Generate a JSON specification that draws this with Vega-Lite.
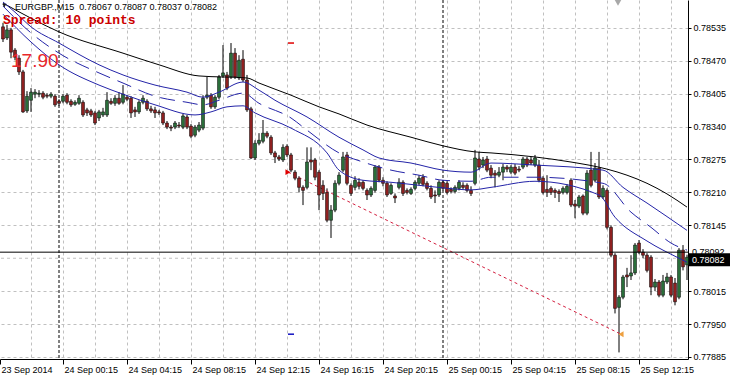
{
"$schema": "https://vega.github.io/schema/vega-lite/v6.json",
"width": 688, "height": 359,
"autosize": {"type": "none"},
"padding": {"left": 0, "top": 0, "right": 42, "bottom": 17},
"background": "#ffffff",
"config": {"view": {"stroke": null}, "font": "Liberation Sans", "axis": {"labelOverlap": false}},
"datasets": {
"candles": [
{"t":"2014-09-23T20:30","o":0.78537,"h":0.78545,"l":0.78507,"c":0.78513},
{"t":"2014-09-23T20:45","o":0.78515,"h":0.78541,"l":0.78511,"c":0.78531},
{"t":"2014-09-23T21:00","o":0.78531,"h":0.78535,"l":0.78475,"c":0.78487},
{"t":"2014-09-23T21:15","o":0.78491,"h":0.78495,"l":0.78471,"c":0.78477},
{"t":"2014-09-23T21:30","o":0.78475,"h":0.78481,"l":0.78442,"c":0.78448},
{"t":"2014-09-23T21:45","o":0.78448,"h":0.78452,"l":0.78367,"c":0.78369},
{"t":"2014-09-23T22:00","o":0.78371,"h":0.78410,"l":0.78367,"c":0.78400},
{"t":"2014-09-23T22:15","o":0.78392,"h":0.78416,"l":0.78369,"c":0.78408},
{"t":"2014-09-23T22:30","o":0.78404,"h":0.78414,"l":0.78396,"c":0.78408},
{"t":"2014-09-23T22:45","o":0.78404,"h":0.78412,"l":0.78398,"c":0.78406},
{"t":"2014-09-23T23:00","o":0.78406,"h":0.78410,"l":0.78394,"c":0.78398},
{"t":"2014-09-23T23:15","o":0.78402,"h":0.78406,"l":0.78396,"c":0.78400},
{"t":"2014-09-23T23:30","o":0.78400,"h":0.78408,"l":0.78396,"c":0.78404},
{"t":"2014-09-23T23:45","o":0.78400,"h":0.78404,"l":0.78379,"c":0.78383},
{"t":"2014-09-24T00:00","o":0.78390,"h":0.78394,"l":0.78381,"c":0.78386},
{"t":"2014-09-24T00:15","o":0.78390,"h":0.78404,"l":0.78386,"c":0.78400},
{"t":"2014-09-24T00:30","o":0.78402,"h":0.78406,"l":0.78384,"c":0.78388},
{"t":"2014-09-24T00:45","o":0.78390,"h":0.78394,"l":0.78379,"c":0.78383},
{"t":"2014-09-24T01:00","o":0.78384,"h":0.78392,"l":0.78381,"c":0.78388},
{"t":"2014-09-24T01:15","o":0.78386,"h":0.78402,"l":0.78383,"c":0.78396},
{"t":"2014-09-24T01:30","o":0.78388,"h":0.78392,"l":0.78359,"c":0.78363},
{"t":"2014-09-24T01:45","o":0.78373,"h":0.78377,"l":0.78361,"c":0.78367},
{"t":"2014-09-24T02:00","o":0.78371,"h":0.78375,"l":0.78359,"c":0.78363},
{"t":"2014-09-24T02:15","o":0.78367,"h":0.78371,"l":0.78343,"c":0.78347},
{"t":"2014-09-24T02:30","o":0.78357,"h":0.78373,"l":0.78351,"c":0.78369},
{"t":"2014-09-24T02:45","o":0.78363,"h":0.78377,"l":0.78359,"c":0.78369},
{"t":"2014-09-24T03:00","o":0.78363,"h":0.78408,"l":0.78359,"c":0.78392},
{"t":"2014-09-24T03:15","o":0.78390,"h":0.78396,"l":0.78383,"c":0.78386},
{"t":"2014-09-24T03:30","o":0.78386,"h":0.78402,"l":0.78381,"c":0.78396},
{"t":"2014-09-24T03:45","o":0.78396,"h":0.78408,"l":0.78383,"c":0.78386},
{"t":"2014-09-24T04:00","o":0.78388,"h":0.78422,"l":0.78384,"c":0.78404},
{"t":"2014-09-24T04:15","o":0.78398,"h":0.78402,"l":0.78390,"c":0.78394},
{"t":"2014-09-24T04:30","o":0.78396,"h":0.78400,"l":0.78357,"c":0.78367},
{"t":"2014-09-24T04:45","o":0.78373,"h":0.78379,"l":0.78359,"c":0.78369},
{"t":"2014-09-24T05:00","o":0.78369,"h":0.78392,"l":0.78365,"c":0.78388},
{"t":"2014-09-24T05:15","o":0.78388,"h":0.78402,"l":0.78384,"c":0.78396},
{"t":"2014-09-24T05:30","o":0.78390,"h":0.78394,"l":0.78371,"c":0.78375},
{"t":"2014-09-24T05:45","o":0.78375,"h":0.78381,"l":0.78367,"c":0.78371},
{"t":"2014-09-24T06:00","o":0.78373,"h":0.78379,"l":0.78357,"c":0.78367},
{"t":"2014-09-24T06:15","o":0.78369,"h":0.78373,"l":0.78363,"c":0.78367},
{"t":"2014-09-24T06:30","o":0.78367,"h":0.78371,"l":0.78343,"c":0.78347},
{"t":"2014-09-24T06:45","o":0.78347,"h":0.78351,"l":0.78335,"c":0.78339},
{"t":"2014-09-24T07:00","o":0.78339,"h":0.78343,"l":0.78331,"c":0.78337},
{"t":"2014-09-24T07:15","o":0.78339,"h":0.78351,"l":0.78335,"c":0.78347},
{"t":"2014-09-24T07:30","o":0.78343,"h":0.78349,"l":0.78337,"c":0.78341},
{"t":"2014-09-24T07:45","o":0.78339,"h":0.78365,"l":0.78335,"c":0.78361},
{"t":"2014-09-24T08:00","o":0.78359,"h":0.78363,"l":0.78335,"c":0.78339},
{"t":"2014-09-24T08:15","o":0.78341,"h":0.78345,"l":0.78317,"c":0.78321},
{"t":"2014-09-24T08:30","o":0.78323,"h":0.78343,"l":0.78319,"c":0.78339},
{"t":"2014-09-24T08:45","o":0.78333,"h":0.78349,"l":0.78329,"c":0.78343},
{"t":"2014-09-24T09:00","o":0.78337,"h":0.78402,"l":0.78333,"c":0.78396},
{"t":"2014-09-24T09:15","o":0.78398,"h":0.78438,"l":0.78394,"c":0.78402},
{"t":"2014-09-24T09:30","o":0.78402,"h":0.78406,"l":0.78375,"c":0.78379},
{"t":"2014-09-24T09:45","o":0.78379,"h":0.78402,"l":0.78375,"c":0.78398},
{"t":"2014-09-24T10:00","o":0.78398,"h":0.78442,"l":0.78394,"c":0.78438},
{"t":"2014-09-24T10:15","o":0.78440,"h":0.78501,"l":0.78436,"c":0.78446},
{"t":"2014-09-24T10:30","o":0.78442,"h":0.78448,"l":0.78412,"c":0.78416},
{"t":"2014-09-24T10:45","o":0.78438,"h":0.78505,"l":0.78434,"c":0.78485},
{"t":"2014-09-24T11:00","o":0.78485,"h":0.78495,"l":0.78434,"c":0.78438},
{"t":"2014-09-24T11:15","o":0.78436,"h":0.78481,"l":0.78432,"c":0.78471},
{"t":"2014-09-24T11:30","o":0.78473,"h":0.78491,"l":0.78428,"c":0.78432},
{"t":"2014-09-24T11:45","o":0.78432,"h":0.78442,"l":0.78369,"c":0.78373},
{"t":"2014-09-24T12:00","o":0.78375,"h":0.78379,"l":0.78276,"c":0.78278},
{"t":"2014-09-24T12:15","o":0.78278,"h":0.78313,"l":0.78274,"c":0.78307},
{"t":"2014-09-24T12:30","o":0.78307,"h":0.78327,"l":0.78303,"c":0.78313},
{"t":"2014-09-24T12:45","o":0.78311,"h":0.78353,"l":0.78307,"c":0.78327},
{"t":"2014-09-24T13:00","o":0.78327,"h":0.78331,"l":0.78317,"c":0.78321},
{"t":"2014-09-24T13:15","o":0.78319,"h":0.78323,"l":0.78284,"c":0.78288},
{"t":"2014-09-24T13:30","o":0.78288,"h":0.78292,"l":0.78268,"c":0.78280},
{"t":"2014-09-24T13:45","o":0.78280,"h":0.78284,"l":0.78272,"c":0.78276},
{"t":"2014-09-24T14:00","o":0.78274,"h":0.78305,"l":0.78270,"c":0.78299},
{"t":"2014-09-24T14:15","o":0.78301,"h":0.78305,"l":0.78280,"c":0.78284},
{"t":"2014-09-24T14:30","o":0.78284,"h":0.78288,"l":0.78250,"c":0.78254},
{"t":"2014-09-24T14:45","o":0.78250,"h":0.78254,"l":0.78234,"c":0.78238},
{"t":"2014-09-24T15:00","o":0.78238,"h":0.78242,"l":0.78210,"c":0.78220},
{"t":"2014-09-24T15:15","o":0.78220,"h":0.78224,"l":0.78185,"c":0.78214},
{"t":"2014-09-24T15:30","o":0.78220,"h":0.78299,"l":0.78216,"c":0.78270},
{"t":"2014-09-24T15:45","o":0.78274,"h":0.78299,"l":0.78254,"c":0.78270},
{"t":"2014-09-24T16:00","o":0.78274,"h":0.78278,"l":0.78234,"c":0.78240},
{"t":"2014-09-24T16:15","o":0.78250,"h":0.78254,"l":0.78175,"c":0.78205},
{"t":"2014-09-24T16:30","o":0.78224,"h":0.78234,"l":0.78195,"c":0.78208},
{"t":"2014-09-24T16:45","o":0.78210,"h":0.78218,"l":0.78151,"c":0.78155},
{"t":"2014-09-24T17:00","o":0.78155,"h":0.78185,"l":0.78120,"c":0.78175},
{"t":"2014-09-24T17:15","o":0.78175,"h":0.78234,"l":0.78171,"c":0.78228},
{"t":"2014-09-24T17:30","o":0.78228,"h":0.78250,"l":0.78224,"c":0.78244},
{"t":"2014-09-24T17:45","o":0.78254,"h":0.78290,"l":0.78250,"c":0.78280},
{"t":"2014-09-24T18:00","o":0.78284,"h":0.78290,"l":0.78224,"c":0.78228},
{"t":"2014-09-24T18:15","o":0.78224,"h":0.78228,"l":0.78203,"c":0.78208},
{"t":"2014-09-24T18:30","o":0.78220,"h":0.78242,"l":0.78214,"c":0.78234},
{"t":"2014-09-24T18:45","o":0.78230,"h":0.78238,"l":0.78216,"c":0.78222},
{"t":"2014-09-24T19:00","o":0.78230,"h":0.78234,"l":0.78214,"c":0.78218},
{"t":"2014-09-24T19:15","o":0.78214,"h":0.78218,"l":0.78195,"c":0.78205},
{"t":"2014-09-24T19:30","o":0.78205,"h":0.78222,"l":0.78201,"c":0.78218},
{"t":"2014-09-24T19:45","o":0.78214,"h":0.78264,"l":0.78210,"c":0.78260},
{"t":"2014-09-24T20:00","o":0.78260,"h":0.78264,"l":0.78230,"c":0.78234},
{"t":"2014-09-24T20:15","o":0.78234,"h":0.78240,"l":0.78222,"c":0.78228},
{"t":"2014-09-24T20:30","o":0.78228,"h":0.78232,"l":0.78201,"c":0.78205},
{"t":"2014-09-24T20:45","o":0.78208,"h":0.78228,"l":0.78205,"c":0.78224},
{"t":"2014-09-24T21:00","o":0.78203,"h":0.78208,"l":0.78189,"c":0.78199},
{"t":"2014-09-24T21:15","o":0.78220,"h":0.78238,"l":0.78216,"c":0.78230},
{"t":"2014-09-24T21:30","o":0.78230,"h":0.78234,"l":0.78203,"c":0.78208},
{"t":"2014-09-24T21:45","o":0.78214,"h":0.78218,"l":0.78206,"c":0.78210},
{"t":"2014-09-24T22:00","o":0.78208,"h":0.78220,"l":0.78205,"c":0.78216},
{"t":"2014-09-24T22:15","o":0.78218,"h":0.78234,"l":0.78214,"c":0.78230},
{"t":"2014-09-24T22:30","o":0.78228,"h":0.78244,"l":0.78224,"c":0.78238},
{"t":"2014-09-24T22:45","o":0.78240,"h":0.78246,"l":0.78222,"c":0.78226},
{"t":"2014-09-24T23:00","o":0.78228,"h":0.78232,"l":0.78214,"c":0.78218},
{"t":"2014-09-24T23:15","o":0.78218,"h":0.78224,"l":0.78197,"c":0.78201},
{"t":"2014-09-24T23:30","o":0.78205,"h":0.78214,"l":0.78189,"c":0.78203},
{"t":"2014-09-24T23:45","o":0.78205,"h":0.78234,"l":0.78201,"c":0.78230},
{"t":"2014-09-25T00:00","o":0.78230,"h":0.78234,"l":0.78214,"c":0.78218},
{"t":"2014-09-25T00:15","o":0.78228,"h":0.78232,"l":0.78206,"c":0.78210},
{"t":"2014-09-25T00:30","o":0.78216,"h":0.78220,"l":0.78208,"c":0.78212},
{"t":"2014-09-25T00:45","o":0.78212,"h":0.78224,"l":0.78208,"c":0.78220},
{"t":"2014-09-25T01:00","o":0.78218,"h":0.78234,"l":0.78214,"c":0.78230},
{"t":"2014-09-25T01:15","o":0.78224,"h":0.78230,"l":0.78216,"c":0.78220},
{"t":"2014-09-25T01:30","o":0.78224,"h":0.78228,"l":0.78210,"c":0.78214},
{"t":"2014-09-25T01:45","o":0.78214,"h":0.78222,"l":0.78203,"c":0.78208},
{"t":"2014-09-25T02:00","o":0.78228,"h":0.78294,"l":0.78224,"c":0.78278},
{"t":"2014-09-25T02:15","o":0.78276,"h":0.78290,"l":0.78254,"c":0.78260},
{"t":"2014-09-25T02:30","o":0.78264,"h":0.78280,"l":0.78258,"c":0.78274},
{"t":"2014-09-25T02:45","o":0.78276,"h":0.78282,"l":0.78250,"c":0.78254},
{"t":"2014-09-25T03:00","o":0.78258,"h":0.78264,"l":0.78238,"c":0.78244},
{"t":"2014-09-25T03:15","o":0.78248,"h":0.78254,"l":0.78220,"c":0.78244},
{"t":"2014-09-25T03:30","o":0.78244,"h":0.78260,"l":0.78240,"c":0.78250},
{"t":"2014-09-25T03:45","o":0.78250,"h":0.78266,"l":0.78234,"c":0.78260},
{"t":"2014-09-25T04:00","o":0.78260,"h":0.78264,"l":0.78250,"c":0.78256},
{"t":"2014-09-25T04:15","o":0.78250,"h":0.78264,"l":0.78246,"c":0.78260},
{"t":"2014-09-25T04:30","o":0.78260,"h":0.78266,"l":0.78244,"c":0.78248},
{"t":"2014-09-25T04:45","o":0.78256,"h":0.78262,"l":0.78250,"c":0.78254},
{"t":"2014-09-25T05:00","o":0.78260,"h":0.78280,"l":0.78256,"c":0.78276},
{"t":"2014-09-25T05:15","o":0.78276,"h":0.78280,"l":0.78260,"c":0.78264},
{"t":"2014-09-25T05:30","o":0.78274,"h":0.78280,"l":0.78264,"c":0.78268},
{"t":"2014-09-25T05:45","o":0.78264,"h":0.78284,"l":0.78260,"c":0.78278},
{"t":"2014-09-25T06:00","o":0.78264,"h":0.78274,"l":0.78230,"c":0.78234},
{"t":"2014-09-25T06:15","o":0.78238,"h":0.78242,"l":0.78206,"c":0.78210},
{"t":"2014-09-25T06:30","o":0.78216,"h":0.78244,"l":0.78201,"c":0.78210},
{"t":"2014-09-25T06:45","o":0.78218,"h":0.78222,"l":0.78205,"c":0.78210},
{"t":"2014-09-25T07:00","o":0.78214,"h":0.78218,"l":0.78199,"c":0.78210},
{"t":"2014-09-25T07:15","o":0.78212,"h":0.78216,"l":0.78191,"c":0.78208},
{"t":"2014-09-25T07:30","o":0.78210,"h":0.78222,"l":0.78206,"c":0.78218},
{"t":"2014-09-25T07:45","o":0.78210,"h":0.78226,"l":0.78206,"c":0.78222},
{"t":"2014-09-25T08:00","o":0.78234,"h":0.78238,"l":0.78181,"c":0.78185},
{"t":"2014-09-25T08:15","o":0.78187,"h":0.78195,"l":0.78159,"c":0.78183},
{"t":"2014-09-25T08:30","o":0.78183,"h":0.78205,"l":0.78179,"c":0.78201},
{"t":"2014-09-25T08:45","o":0.78203,"h":0.78206,"l":0.78165,"c":0.78169},
{"t":"2014-09-25T09:00","o":0.78169,"h":0.78254,"l":0.78165,"c":0.78248},
{"t":"2014-09-25T09:15","o":0.78254,"h":0.78290,"l":0.78220,"c":0.78224},
{"t":"2014-09-25T09:30","o":0.78234,"h":0.78268,"l":0.78230,"c":0.78258},
{"t":"2014-09-25T09:45","o":0.78258,"h":0.78290,"l":0.78197,"c":0.78201},
{"t":"2014-09-25T10:00","o":0.78201,"h":0.78224,"l":0.78197,"c":0.78218},
{"t":"2014-09-25T10:15","o":0.78214,"h":0.78218,"l":0.78137,"c":0.78141},
{"t":"2014-09-25T10:30","o":0.78141,"h":0.78145,"l":0.78082,"c":0.78086},
{"t":"2014-09-25T10:45","o":0.78086,"h":0.78090,"l":0.77971,"c":0.77981},
{"t":"2014-09-25T11:00","o":0.77983,"h":0.78007,"l":0.77894,"c":0.78003},
{"t":"2014-09-25T11:15","o":0.78003,"h":0.78047,"l":0.77999,"c":0.78043},
{"t":"2014-09-25T11:30","o":0.78047,"h":0.78061,"l":0.78023,"c":0.78043},
{"t":"2014-09-25T11:45","o":0.78045,"h":0.78086,"l":0.78037,"c":0.78051},
{"t":"2014-09-25T12:00","o":0.78051,"h":0.78110,"l":0.78047,"c":0.78106},
{"t":"2014-09-25T12:15","o":0.78110,"h":0.78116,"l":0.78088,"c":0.78092},
{"t":"2014-09-25T12:30","o":0.78092,"h":0.78098,"l":0.78080,"c":0.78086},
{"t":"2014-09-25T12:45","o":0.78086,"h":0.78090,"l":0.78052,"c":0.78056},
{"t":"2014-09-25T13:00","o":0.78082,"h":0.78086,"l":0.78007,"c":0.78023},
{"t":"2014-09-25T13:15","o":0.78023,"h":0.78039,"l":0.78015,"c":0.78033},
{"t":"2014-09-25T13:30","o":0.78033,"h":0.78037,"l":0.78003,"c":0.78007},
{"t":"2014-09-25T13:45","o":0.78007,"h":0.78047,"l":0.78003,"c":0.78035},
{"t":"2014-09-25T14:00","o":0.78033,"h":0.78051,"l":0.78029,"c":0.78043},
{"t":"2014-09-25T14:15","o":0.78043,"h":0.78047,"l":0.78003,"c":0.78007},
{"t":"2014-09-25T14:30","o":0.78031,"h":0.78041,"l":0.77987,"c":0.77994},
{"t":"2014-09-25T14:45","o":0.78003,"h":0.78100,"l":0.77999,"c":0.78096},
{"t":"2014-09-25T15:00","o":0.78096,"h":0.78106,"l":0.78056,"c":0.78063},
{"t":"2014-09-25T15:15","o":0.78067,"h":0.78087,"l":0.78037,"c":0.78082}
],
"maBlack": [
{"t":"2014-09-23T20:30","p":0.78584},{"t":"2014-09-23T22:15","p":0.78554},{"t":"2014-09-24T00:00","p":0.78527},
{"t":"2014-09-24T04:00","p":0.78485},{"t":"2014-09-24T06:15","p":0.78462},{"t":"2014-09-24T08:45","p":0.78440},
{"t":"2014-09-24T11:45","p":0.78436},{"t":"2014-09-24T12:30","p":0.78426},{"t":"2014-09-24T14:30","p":0.78402},
{"t":"2014-09-24T16:15","p":0.78379},{"t":"2014-09-24T17:30","p":0.78365},{"t":"2014-09-24T19:15","p":0.78343},
{"t":"2014-09-24T22:00","p":0.78319},{"t":"2014-09-25T00:00","p":0.78302},{"t":"2014-09-25T02:00","p":0.78290},
{"t":"2014-09-25T03:00","p":0.78288},{"t":"2014-09-25T05:45","p":0.78280},{"t":"2014-09-25T08:00","p":0.78270},
{"t":"2014-09-25T10:15","p":0.78256},{"t":"2014-09-25T11:30","p":0.78244},{"t":"2014-09-25T12:45","p":0.78228},
{"t":"2014-09-25T14:00","p":0.78207},{"t":"2014-09-25T15:15","p":0.78181}
],
"maTop": [
{"t":"2014-09-23T20:30","p":0.78586},{"t":"2014-09-23T21:15","p":0.78566},{"t":"2014-09-23T22:15","p":0.78537},
{"t":"2014-09-24T00:00","p":0.78505},{"t":"2014-09-24T02:30","p":0.78462},{"t":"2014-09-24T04:00","p":0.78442},
{"t":"2014-09-24T06:00","p":0.78422},{"t":"2014-09-24T08:00","p":0.78408},{"t":"2014-09-24T09:00","p":0.78398},
{"t":"2014-09-24T10:00","p":0.78408},{"t":"2014-09-24T11:30","p":0.78428},{"t":"2014-09-24T12:30","p":0.78412},
{"t":"2014-09-24T13:30","p":0.78392},{"t":"2014-09-24T15:30","p":0.78359},{"t":"2014-09-24T17:30","p":0.78319},
{"t":"2014-09-24T19:00","p":0.78294},{"t":"2014-09-24T20:00","p":0.78278},{"t":"2014-09-24T22:00","p":0.78268},
{"t":"2014-09-25T00:00","p":0.78254},{"t":"2014-09-25T01:45","p":0.78250},{"t":"2014-09-25T03:00","p":0.78268},
{"t":"2014-09-25T05:45","p":0.78264},{"t":"2014-09-25T10:00","p":0.78254},{"t":"2014-09-25T11:15","p":0.78220},
{"t":"2014-09-25T12:45","p":0.78189},{"t":"2014-09-25T15:15","p":0.78135}
],
"maMid": [
{"t":"2014-09-23T20:30","p":0.78578},{"t":"2014-09-23T22:15","p":0.78525},{"t":"2014-09-24T00:00","p":0.78485},
{"t":"2014-09-24T02:30","p":0.78446},{"t":"2014-09-24T04:00","p":0.78426},{"t":"2014-09-24T06:00","p":0.78400},
{"t":"2014-09-24T08:00","p":0.78388},{"t":"2014-09-24T09:00","p":0.78383},{"t":"2014-09-24T10:00","p":0.78392},
{"t":"2014-09-24T11:30","p":0.78406},{"t":"2014-09-24T12:30","p":0.78386},{"t":"2014-09-24T14:30","p":0.78357},
{"t":"2014-09-24T15:30","p":0.78333},{"t":"2014-09-24T17:30","p":0.78288},{"t":"2014-09-24T19:00","p":0.78270},
{"t":"2014-09-24T20:45","p":0.78254},{"t":"2014-09-24T22:30","p":0.78244},{"t":"2014-09-25T00:00","p":0.78234},
{"t":"2014-09-25T01:45","p":0.78232},{"t":"2014-09-25T03:00","p":0.78240},{"t":"2014-09-25T05:45","p":0.78240},
{"t":"2014-09-25T10:00","p":0.78228},{"t":"2014-09-25T11:45","p":0.78171},{"t":"2014-09-25T13:00","p":0.78141},
{"t":"2014-09-25T14:15","p":0.78110},{"t":"2014-09-25T15:15","p":0.78096}
],
"maBot": [
{"t":"2014-09-23T20:30","p":0.78562},{"t":"2014-09-23T22:15","p":0.78507},{"t":"2014-09-24T00:00","p":0.78462},
{"t":"2014-09-24T02:30","p":0.78422},{"t":"2014-09-24T04:00","p":0.78404},{"t":"2014-09-24T06:00","p":0.78383},
{"t":"2014-09-24T08:30","p":0.78363},{"t":"2014-09-24T09:30","p":0.78369},{"t":"2014-09-24T10:30","p":0.78379},
{"t":"2014-09-24T11:30","p":0.78381},{"t":"2014-09-24T12:15","p":0.78367},{"t":"2014-09-24T14:30","p":0.78337},
{"t":"2014-09-24T16:45","p":0.78288},{"t":"2014-09-24T17:30","p":0.78254},{"t":"2014-09-24T19:00","p":0.78234},
{"t":"2014-09-24T20:45","p":0.78230},{"t":"2014-09-24T22:30","p":0.78224},{"t":"2014-09-25T00:00","p":0.78219},
{"t":"2014-09-25T01:45","p":0.78215},{"t":"2014-09-25T03:00","p":0.78220},{"t":"2014-09-25T05:45","p":0.78232},
{"t":"2014-09-25T09:45","p":0.78205},{"t":"2014-09-25T10:45","p":0.78161},{"t":"2014-09-25T12:45","p":0.78114},
{"t":"2014-09-25T14:45","p":0.78080},{"t":"2014-09-25T15:15","p":0.78072}
]
},
"layer": [
{
"data": {"values": [{"p":0.7808}]},
"mark": {"type": "rule", "color": "#c0c0c0", "strokeWidth": 1, "strokeDash": [3, 3]},
"encoding": {"y": {"field": "p", "type": "quantitative", "title": null}}
},
{
"data": {"values": [{"t":"2014-09-24T00:00"},{"t":"2014-09-25T00:00"}]},
"mark": {"type": "rule", "color": "#000000", "strokeWidth": 1, "strokeDash": [3, 2]},
"encoding": {"x": {"field": "t", "type": "temporal", "title": null}}
},
{
"data": {"name": "candles"},
"mark": {"type": "rule", "color": "#000000", "strokeWidth": 1},
"encoding": {
"x": {"field": "t", "type": "temporal", "title": null,
"scale": {"domain": [{"year":2014,"month":9,"date":23,"hours":20,"minutes":18,"seconds":45},{"year":2014,"month":9,"date":25,"hours":15,"minutes":18,"seconds":45}], "nice": false, "padding": 0},
"axis": {
"values": [
{"year":2014,"month":9,"date":23,"hours":20,"minutes":18,"seconds":45},
{"year":2014,"month":9,"date":23,"hours":22,"minutes":15},
{"year":2014,"month":9,"date":24,"hours":0,"minutes":15},
{"year":2014,"month":9,"date":24,"hours":2,"minutes":15},
{"year":2014,"month":9,"date":24,"hours":4,"minutes":15},
{"year":2014,"month":9,"date":24,"hours":6,"minutes":15},
{"year":2014,"month":9,"date":24,"hours":8,"minutes":15},
{"year":2014,"month":9,"date":24,"hours":10,"minutes":15},
{"year":2014,"month":9,"date":24,"hours":12,"minutes":15},
{"year":2014,"month":9,"date":24,"hours":14,"minutes":15},
{"year":2014,"month":9,"date":24,"hours":16,"minutes":15},
{"year":2014,"month":9,"date":24,"hours":18,"minutes":15},
{"year":2014,"month":9,"date":24,"hours":20,"minutes":15},
{"year":2014,"month":9,"date":24,"hours":22,"minutes":15},
{"year":2014,"month":9,"date":25,"hours":0,"minutes":15},
{"year":2014,"month":9,"date":25,"hours":2,"minutes":15},
{"year":2014,"month":9,"date":25,"hours":4,"minutes":15},
{"year":2014,"month":9,"date":25,"hours":6,"minutes":15},
{"year":2014,"month":9,"date":25,"hours":8,"minutes":15},
{"year":2014,"month":9,"date":25,"hours":10,"minutes":15},
{"year":2014,"month":9,"date":25,"hours":12,"minutes":15},
{"year":2014,"month":9,"date":25,"hours":14,"minutes":15}
],
"tickCount": 60,
"title": null,
"grid": true,
"gridColor": {"condition": {"test": "date(datum.value) == 23 && hours(datum.value) == 20", "value": "rgba(0,0,0,0)"}, "value": "#c0c0c0"},
"gridDash": [3, 3],
"gridWidth": 1,
"domainColor": "#000000",
"domainWidth": 1,
"ticks": true,
"tickColor": {"condition": {"test": "hours(datum.value) % 4 == 0", "value": "#000000"}, "value": "rgba(0,0,0,0)"},
"tickSize": 5,
"labelAlign": "left",
"labelBaseline": "top",
"labelPadding": 1,
"labelOffset": 1,
"labelFont": "Liberation Sans",
"labelFontSize": 9,
"labelColor": "#000000",
"labelOverlap": false,
"labelFlush": false,
"labelBound": false,
"labelExpr": "hours(datum.value) % 4 == 2 ? '' : (date(datum.value) == 23 ? '23 Sep 2014' : timeFormat(datum.value, '%d %b %H:%M'))"
}},
"y": {"field": "l", "type": "quantitative", "title": null,
"scale": {"domain": [0.77881, 0.7859], "nice": false, "zero": false},
"axis": {
"orient": "right",
"values": [0.77885, 0.7795, 0.78015, 0.78145, 0.7821, 0.78275, 0.7834, 0.78405, 0.7847, 0.78535],
"tickCount": 60,
"title": null,
"format": ".5f",
"grid": true,
"gridColor": "#c0c0c0",
"gridDash": [3, 3],
"gridWidth": 1,
"domainColor": "#000000",
"domainWidth": 1,
"tickColor": "#000000",
"tickSize": 3,
"labelPadding": 2,
"labelAlign": "left",
"labelBaseline": "middle",
"labelFont": "Liberation Sans",
"labelFontSize": 9,
"labelColor": "#000000",
"labelFlush": false,
"labelOverlap": false,
"labelBound": false
}},
"y2": {"field": "h"}
}
},
{
"data": {"values": [{"t":"2014-09-24T14:18:45","p":0.7825},{"t":"2014-09-25T11:07:30","p":0.7793}]},
"mark": {"type": "line", "color": "#d42040", "strokeWidth": 1, "strokeDash": [3, 3]},
"encoding": {"x": {"field": "t", "type": "temporal", "title": null}, "y": {"field": "p", "type": "quantitative", "title": null}}
},
{
"data": {"name": "candles"},
"mark": {"type": "bar", "size": 3, "stroke": "#000000", "strokeWidth": 0.5},
"encoding": {
"x": {"field": "t", "type": "temporal", "title": null},
"y": {"field": "o", "type": "quantitative", "title": null},
"y2": {"field": "c"},
"fill": {"condition": {"test": "datum.c >= datum.o", "value": "#2a6e3a"}, "value": "#8e2020"}
}
},
{
"data": {"name": "maBlack"},
"mark": {"type": "line", "color": "#000000", "strokeWidth": 1, "interpolate": "monotone"},
"encoding": {"x": {"field": "t", "type": "temporal", "title": null}, "y": {"field": "p", "type": "quantitative", "title": null}}
},
{
"data": {"name": "maTop"},
"mark": {"type": "line", "color": "#2424a8", "strokeWidth": 1, "interpolate": "monotone"},
"encoding": {"x": {"field": "t", "type": "temporal", "title": null}, "y": {"field": "p", "type": "quantitative", "title": null}}
},
{
"data": {"name": "maMid"},
"mark": {"type": "line", "color": "#2424a8", "strokeWidth": 1, "interpolate": "monotone", "strokeDash": [15, 8]},
"encoding": {"x": {"field": "t", "type": "temporal", "title": null}, "y": {"field": "p", "type": "quantitative", "title": null}}
},
{
"data": {"name": "maBot"},
"mark": {"type": "line", "color": "#2424a8", "strokeWidth": 1, "interpolate": "monotone"},
"encoding": {"x": {"field": "t", "type": "temporal", "title": null}, "y": {"field": "p", "type": "quantitative", "title": null}}
},
{
"data": {"values": [{"p":0.78092}]},
"mark": {"type": "rule", "color": "#000000", "strokeWidth": 1},
"encoding": {"y": {"field": "p", "type": "quantitative", "title": null}}
},
{
"data": {"values": [{"t":"2014-09-24T14:18:45","t2":"2014-09-24T14:41:15","p":0.78505,"s":"tp"}]},
"mark": {"type": "rule", "color": "#e00000", "strokeWidth": 1.5},
"encoding": {"x": {"field": "t", "type": "temporal", "title": null}, "x2": {"field": "t2"}, "y": {"field": "p", "type": "quantitative", "title": null}}
},
{
"data": {"values": [{"t":"2014-09-24T14:18:45","t2":"2014-09-24T14:41:15","p":0.7793,"s":"sl"}]},
"mark": {"type": "rule", "color": "#1010c0", "strokeWidth": 1.5},
"encoding": {"x": {"field": "t", "type": "temporal", "title": null}, "x2": {"field": "t2"}, "y": {"field": "p", "type": "quantitative", "title": null}}
},
{
"data": {"values": [{"t":"2014-09-24T14:18:45","p":0.7825}]},
"mark": {"type": "point", "shape": "triangle-right", "filled": true, "color": "#e00000", "size": 35, "opacity": 1},
"encoding": {"x": {"field": "t", "type": "temporal", "title": null}, "y": {"field": "p", "type": "quantitative", "title": null}}
},
{
"data": {"values": [{"t":"2014-09-25T11:07:30","p":0.7793}]},
"mark": {"type": "point", "shape": "triangle-left", "filled": true, "color": "#eea040", "size": 35, "opacity": 1},
"encoding": {"x": {"field": "t", "type": "temporal", "title": null}, "y": {"field": "p", "type": "quantitative", "title": null}}
},
{
"data": {"values": [{"t":"2014-09-25T10:56:15","p":0.78586}]},
"mark": {"type": "point", "shape": "triangle-down", "filled": true, "color": "#a8a8a8", "size": 70, "opacity": 1},
"encoding": {"x": {"field": "t", "type": "temporal", "title": null}, "y": {"field": "p", "type": "quantitative", "title": null}}
},
{
"data": {"values": [{"t":"2014-09-23T20:35:00","p":0.78579}]},
"mark": {"type": "point", "shape": "triangle-down", "filled": true, "color": "#202020", "size": 18, "opacity": 1},
"encoding": {"x": {"field": "t", "type": "temporal", "title": null}, "y": {"field": "p", "type": "quantitative", "title": null}}
},
{
"data": {"values": [{"t":"2014-09-23T21:15","p":0.78576,"s":"EURGBP.,M15\u00a0 0.78067 0.78087 0.78037 0.78082"}]},
"mark": {"type": "text", "align": "left", "baseline": "middle", "font": "Liberation Sans", "fontSize": 9, "color": "#000000"},
"encoding": {"x": {"field": "t", "type": "temporal", "title": null}, "y": {"field": "p", "type": "quantitative", "title": null}, "text": {"field": "s"}}
},
{
"data": {"values": [{"t":"2014-09-23T20:30","p":0.7855,"s":"Spread: 10 points"}]},
"mark": {"type": "text", "align": "left", "baseline": "middle", "font": "Liberation Mono", "fontWeight": "bold", "fontSize": 13, "color": "#cc0000"},
"encoding": {"x": {"field": "t", "type": "temporal", "title": null}, "y": {"field": "p", "type": "quantitative", "title": null}, "text": {"field": "s"}}
},
{
"data": {"values": [{"t":"2014-09-23T21:00","p":0.78469,"s":"17.90"}]},
"mark": {"type": "text", "align": "left", "baseline": "middle", "font": "Liberation Sans", "fontSize": 19, "color": "#e8272b"},
"encoding": {"x": {"field": "t", "type": "temporal", "title": null}, "y": {"field": "p", "type": "quantitative", "title": null}, "text": {"field": "s"}}
},
{
"data": {"values": [{"t":"2014-09-25T15:33:45","p":0.78092,"s":"0.78092"}]},
"mark": {"type": "text", "align": "left", "baseline": "middle", "font": "Liberation Sans", "fontSize": 9, "color": "#000000"},
"encoding": {"x": {"field": "t", "type": "temporal", "title": null}, "y": {"field": "p", "type": "quantitative", "title": null}, "text": {"field": "s"}}
},
{
"data": {"values": [{"t":"2014-09-25T15:22:30","t2":"2014-09-25T17:56:15","p":0.7809,"p2":0.78064}]},
"mark": {"type": "rect", "color": "#000000"},
"encoding": {"x": {"field": "t", "type": "temporal", "title": null}, "x2": {"field": "t2"}, "y": {"field": "p", "type": "quantitative", "title": null}, "y2": {"field": "p2"}}
},
{
"data": {"values": [{"t":"2014-09-25T15:33:45","p":0.78077,"s":"0.78082"}]},
"mark": {"type": "text", "align": "left", "baseline": "middle", "font": "Liberation Sans", "fontSize": 9, "color": "#ffffff"},
"encoding": {"x": {"field": "t", "type": "temporal", "title": null}, "y": {"field": "p", "type": "quantitative", "title": null}, "text": {"field": "s"}}
}
]
}
